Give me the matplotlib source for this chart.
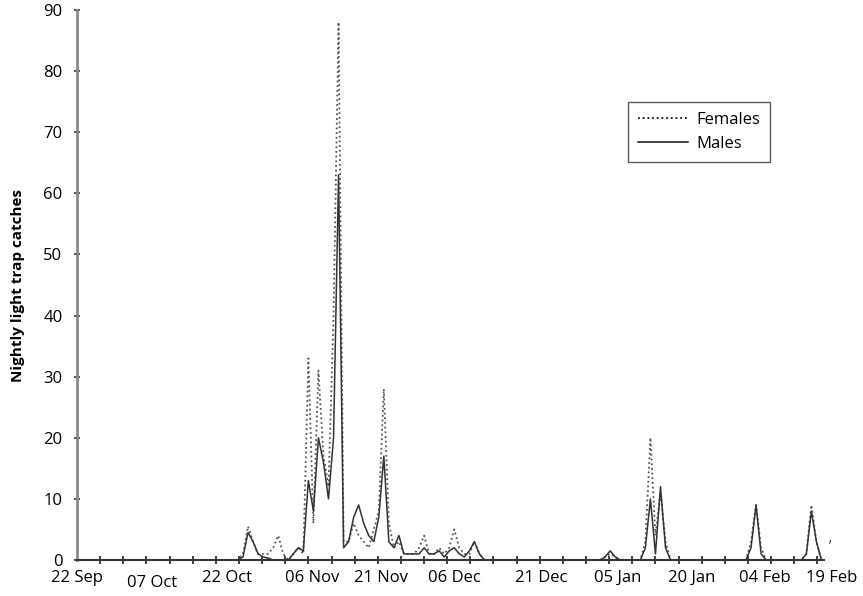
import numpy as np
import matplotlib
matplotlib.use("Agg")
import matplotlib.pyplot as plt
from matplotlib.transforms import ScaledTranslation

# Nightly catches, one value per night starting 22 Sep (day 0)
females = [
    0, 0, 0, 0, 0, 0, 0, 0, 0, 0, 0, 0, 0, 0, 0, 0, 0, 0, 0, 0,
    0, 0, 0, 0, 0, 0, 0, 0, 0, 0, 0, 0, 0,
    1, 5.5, 3, 1, 1, 1, 2, 4, 1, 0, 1, 2, 1,
    33, 6, 31, 17, 12, 40, 88, 3, 3, 6, 4, 3, 2, 5, 8, 28, 6, 2, 3,
    1, 1, 1, 2, 4, 1, 1, 2, 1, 2, 5, 2, 1, 1, 3, 1,
    0, 0, 0, 0, 0, 0, 0, 0, 0, 0, 0, 0, 0, 0, 0, 0, 0, 0, 0, 0,
    0, 0, 0, 0,
    0.5, 1, 0.5, 0, 0, 0, 0, 0, 3, 20, 4, 11, 3,
    0, 0, 0, 0, 0, 0, 0, 0, 0, 0, 0, 0, 0, 0, 0, 0,
    3, 9, 2, 0, 0, 0, 0, 0, 0, 0, 0, 1, 9, 3, 0,
]
males = [
    0, 0, 0, 0, 0, 0, 0, 0, 0, 0, 0, 0, 0, 0, 0, 0, 0, 0, 0, 0,
    0, 0, 0, 0, 0, 0, 0, 0, 0, 0, 0, 0, 0,
    0.5, 4.5, 3, 1, 0.5, 0.3, 0, 0, 0, 0, 1, 2, 1.5,
    13, 8, 20, 16, 10, 20, 63, 2, 3, 7, 9, 6, 4, 3, 7, 17, 3, 2, 4,
    1, 1, 1, 1, 2, 1, 1, 1.5, 0.5, 1.5, 2, 1, 0.5, 1.5, 3, 1,
    0, 0, 0, 0, 0, 0, 0, 0, 0, 0, 0, 0, 0, 0, 0, 0, 0, 0, 0, 0,
    0, 0, 0, 0,
    0.5, 1.5, 0.5, 0, 0, 0, 0, 0, 2, 10, 1, 12, 2,
    0, 0, 0, 0, 0, 0, 0, 0, 0, 0, 0, 0, 0, 0, 0, 0,
    2, 9, 1, 0, 0, 0, 0, 0, 0, 0, 0, 1, 8, 3, 0,
]
days = np.arange(len(females))

tick_labels = ["22 Sep", "07 Oct", "22 Oct", "06 Nov", "21 Nov", "06 Dec",
               "21 Dec", "05 Jan", "20 Jan", "04 Feb", "19 Feb"]
tick_pos = [0, 14.9, 29.8, 46.7, 60.4, 75.1, 92.2, 107.4, 122.3, 136.8, 150.1]
y_ticks = [0, 10, 20, 30, 40, 50, 60, 70, 80, 90]

plt.rcParams['font.family'] = ['Open Sans', 'DejaVu Sans']

W, H = 863, 596
fig = plt.figure(figsize=(W / 100, H / 100), dpi=100)
ax = fig.add_axes([77 / W, 36 / H, (832 - 77) / W, 550 / H])

ax.plot(days, females, linestyle=(0, (1, 1.6)), color="#555555", linewidth=1.3,
        label="Females")
ax.plot(days, males, linestyle="-", color="#333333", linewidth=1.1,
        label="Males")

ax.set_xlim(0, 150.1)
ax.set_ylim(0, 90)
ax.spines['top'].set_visible(False)
ax.spines['right'].set_visible(False)
ax.spines['bottom'].set_bounds(0, 148.5)
ax.spines['left'].set_color("#888888")
ax.spines['left'].set_linewidth(2)
ax.spines['bottom'].set_color("#333333")
ax.spines['bottom'].set_linewidth(1.5)

ax.set_yticks(y_ticks)
ax.set_yticklabels([str(v) for v in y_ticks], fontsize=12)
ax.set_xticks(tick_pos)
ax.set_xticklabels(tick_labels, fontsize=12)
ax.set_xticks(np.arange(0, 149, 4.6), minor=True)
ax.tick_params(axis='y', direction='inout', length=5, width=1.5, color="#555555", pad=8)
ax.tick_params(axis='x', which='major', length=0, pad=7)
ax.tick_params(axis='x', which='minor', direction='inout', length=6, width=1.3, color="#333333")

# "07 Oct" sits slightly lower in the reference
lbl = ax.get_xticklabels()[1]
lbl.set_transform(lbl.get_transform() + ScaledTranslation(0, -5 / 100, fig.dpi_scale_trans))

ax.set_ylabel("Nightly light trap catches", fontsize=11, fontweight='bold', labelpad=13)

leg = ax.legend(loc='upper right', bbox_to_anchor=((770 - 77) / 755, (560 - 102) / 550),
                borderaxespad=0, fancybox=False, frameon=True, fontsize=12,
                handlelength=3.0, handletextpad=0.5, borderpad=0.6, labelspacing=0.45)
leg.get_frame().set_edgecolor("#333333")
leg.get_frame().set_linewidth(1.0)
for h in leg.get_lines():
    h.set_color("#111111")

ax.text(149.5, 1.5, "\u02bc", fontsize=10, color="#333333")

fig.savefig("out.png", dpi=100)
